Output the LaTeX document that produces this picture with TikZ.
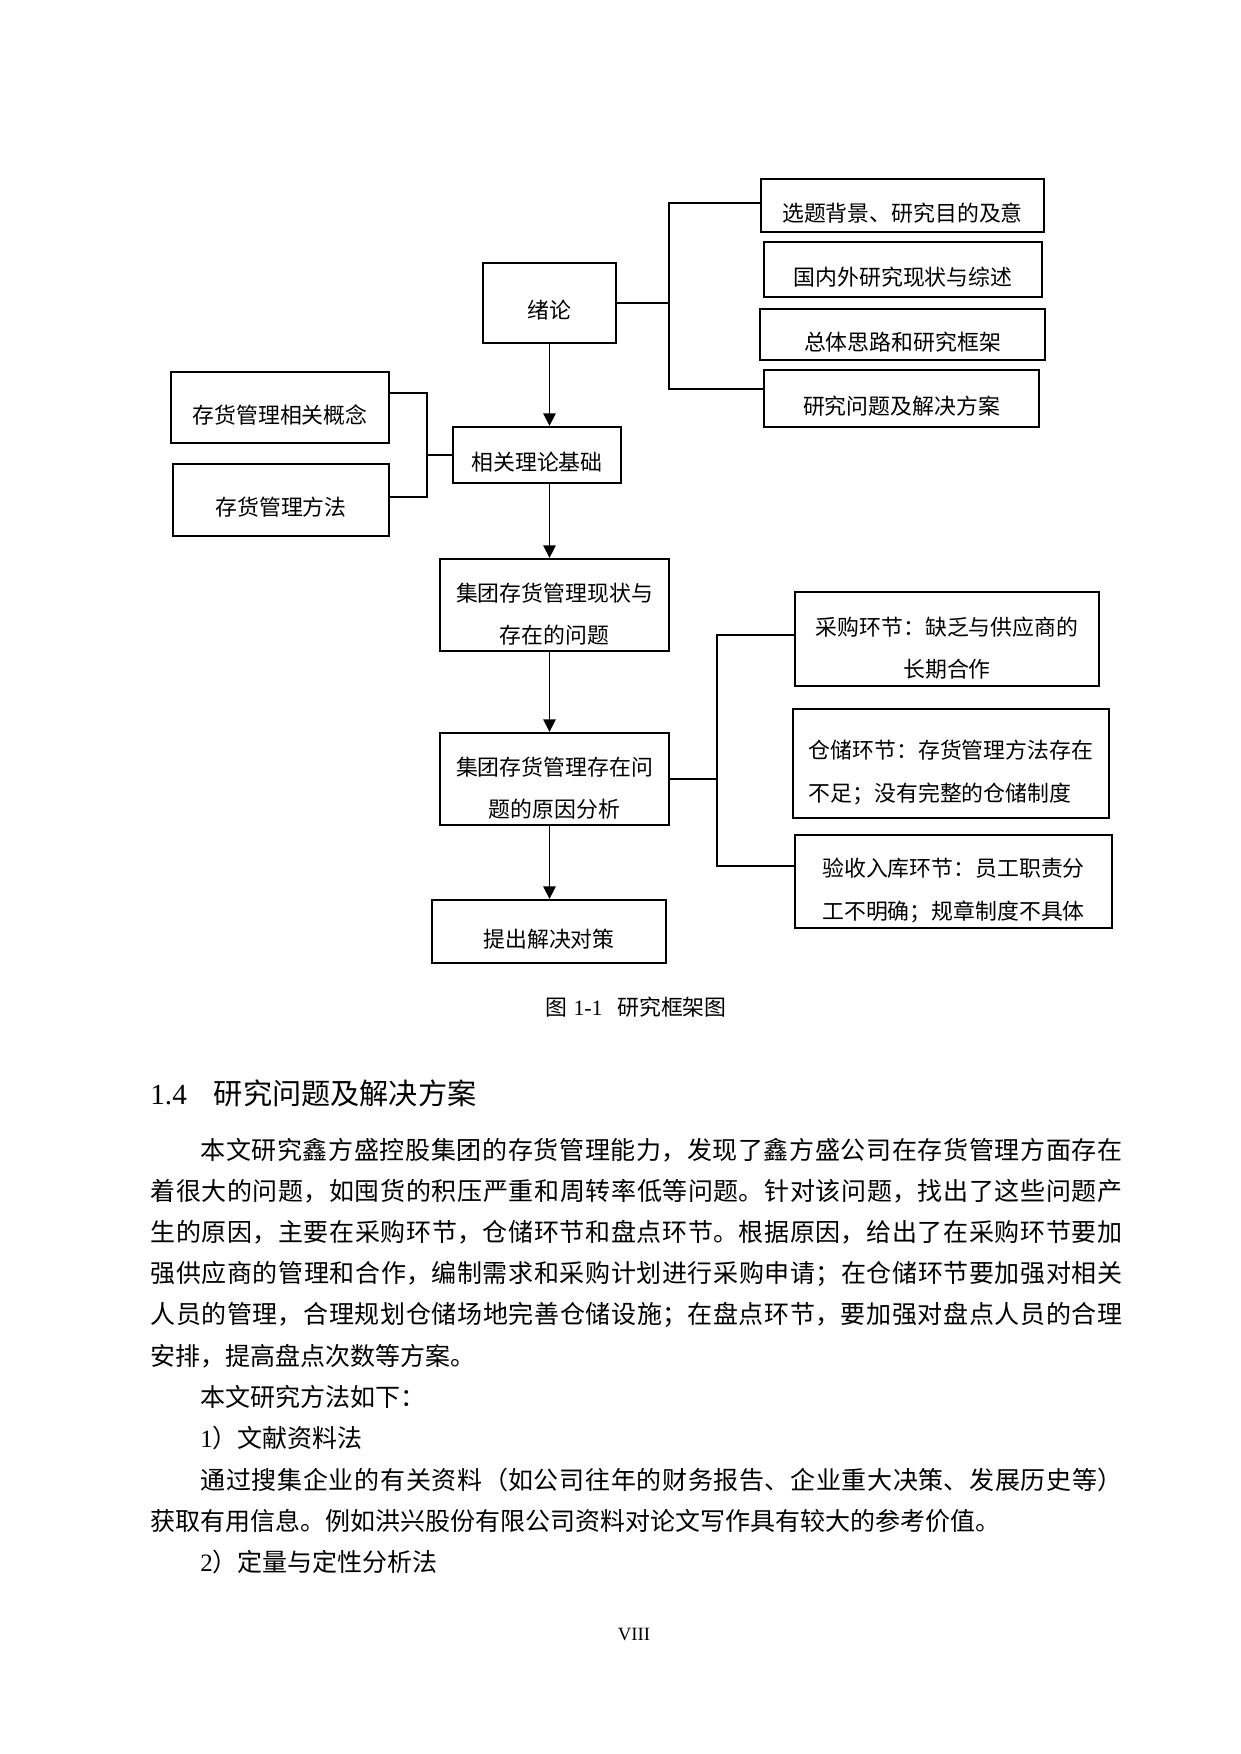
\documentclass[tikz,border=0pt]{standalone}
\usepackage{fontspec}
\usetikzlibrary{arrows.meta}
\setmainfont{Liberation Serif}
\newfontfamily\cjk{Noto Sans CJK SC}
\XeTeXlinebreaklocale "zh"
\XeTeXlinebreakskip=0pt plus 2pt
\setlength\parindent{0pt}

\newcommand\pxu{0.48006bp}
\newcommand\boxfont{\cjk\fontsize{10.5bp}{20.2bp}\selectfont}
\newcommand\bodyfont{\cjk\fontsize{12bp}{19.8bp}\selectfont}
\newcommand\headfont{\cjk\fontsize{14bp}{17bp}\selectfont}
\newcommand\full{\parfillskip=0pt}
\newcommand\dn{\rule{0pt}{17.5bp}}

\begin{document}
\begin{tikzpicture}[x=0.48006bp,y=-0.48006bp,
  box/.style 2 args={draw,line width=1.1bp,minimum width={#1*\pxu},minimum height={#2*\pxu},inner sep=0pt,align=center,font=\boxfont},
  lone/.style={text height=16bp},
  link/.style={line width=0.65bp},
  arr/.style={link,-{Triangle[length=6bp,width=6bp]}},
  bodyline/.style={anchor=west,inner sep=0pt,text width=466.6bp,align=justify,font=\bodyfont}]

\useasboundingbox (0,0) rectangle (1240,1754);

%\tikzset{box/.append style={thick}}

\node[box={133}{80},lone] (xulun) at (549.5,303) {绪论};
\node[box={168}{56},lone] (jichu) at (537,455) {相关理论基础};
\node[box={218}{71},lone] (gainian) at (280,407.5) {存货管理相关概念};
\node[box={216}{72},lone] (fangfa) at (281,500) {存货管理方法};
\node[box={283}{53},lone] (beijing) at (902.5,205.5) {选题背景、研究目的及意};
\node[box={278}{55},lone] (zongshu) at (903,269.5) {国内外研究现状与综述};
\node[box={285}{51},lone] (silu) at (902.5,334.5) {总体思路和研究框架};
\node[box={275}{57},lone] (fangan) at (901.5,398.5) {研究问题及解决方案};
\node[box={229}{92}] (xianzhuang) at (554.5,605) {\dn 集团存货管理现状与\\存在的问题};
\node[box={229}{92}] (yuanyin) at (554.5,779) {\dn 集团存货管理存在问\\题的原因分析};
\node[box={234}{63},lone] (duice) at (549,931.5) {提出解决对策};
\node[box={304}{94}] (caigou) at (947,639) {\dn 采购环节：缺乏与供应商的\\长期合作};
\node[box={316}{109},align=left] (cangchu) at (951,763.5) {\dn 仓储环节：存货管理方法存在\\不足；没有完整的仓储制度};
\node[box={317}{93}] (yanshou) at (953.5,881.5) {\dn 验收入库环节：员工职责分\\工不明确；规章制度不具体};

\coordinate (kA) at (669,203);
\coordinate (kB) at (669,389);
\coordinate (kC) at (427,393);
\coordinate (kD) at (427,497);
\coordinate (kE) at (717,635);
\coordinate (kF) at (717,866);

\draw[link] (xulun.east) -- (xulun.east -| kA);
\draw[link] (beijing.west |- kA) -- (kA) -- (kB) -- (fangan.west |- kB);
\draw[link] (gainian.east |- kC) -- (kC) -- (kD) -- (fangfa.east |- kD);
\draw[link] (kC |- jichu.west) -- (jichu.west);
\draw[link] (yuanyin.east) -- (yuanyin.east -| kE);
\draw[link] (caigou.west |- kE) -- (kE) -- (kF) -- (yanshou.west |- kF);

\draw[arr] (xulun.south) -- (xulun.south |- jichu.north);
\draw[arr] (jichu.south -| xulun.south) -- (xianzhuang.north -| xulun.south);
\draw[arr] (xianzhuang.south -| xulun.south) -- (yuanyin.north -| xulun.south);
\draw[arr] (yuanyin.south -| xulun.south) -- (duice.north -| xulun.south);

\node[font=\boxfont] (tuming) at (636,1007) {图\hspace{3bp}{\rmfamily 1-1}\hspace{7bp}研究框架图};

\node[anchor=west,inner sep=0pt,font=\headfont] (biaoti) at (150,1093) {{\rmfamily 1.4}\hspace{13bp}研究问题及解决方案};

\node[bodyline] (h1) at (150,1150) {\full\hspace*{2em}本文研究鑫方盛控股集团的存货管理能力，发现了鑫方盛公司在存货管理方面存在\par};
\node[bodyline] (h2) at (150,1191.2) {\full 着很大的问题，如囤货的积压严重和周转率低等问题。针对该问题，找出了这些问题产\par};
\node[bodyline] (h3) at (150,1232.4) {\full 生的原因，主要在采购环节，仓储环节和盘点环节。根据原因，给出了在采购环节要加\par};
\node[bodyline] (h4) at (150,1273.6) {\full 强供应商的管理和合作，编制需求和采购计划进行采购申请；在仓储环节要加强对相关\par};
\node[bodyline] (h5) at (150,1314.8) {\full 人员的管理，合理规划仓储场地完善仓储设施；在盘点环节，要加强对盘点人员的合理\par};
\node[bodyline] (h6) at (150,1356) {安排，提高盘点次数等方案。};
\node[bodyline] (h7) at (150,1397.2) {\hspace*{2em}本文研究方法如下：};
\node[bodyline] (h8) at (150,1438.4) {\hspace*{2em}{\rmfamily 1}）文献资料法};
\node[bodyline] (h9) at (150,1479.6) {\full\hspace*{2em}通过搜集企业的有关资料（如公司往年的财务报告、企业重大决策、发展历史等）\par};
\node[bodyline] (h10) at (150,1520.8) {获取有用信息。例如洪兴股份有限公司资料对论文写作具有较大的参考价值。};
\node[bodyline] (h11) at (150,1562) {\hspace*{2em}{\rmfamily 2}）定量与定性分析法};

\node[font=\rmfamily\fontsize{9bp}{11bp}\selectfont] (yema) at (634,1634) {VIII};
\end{tikzpicture}
\end{document}
